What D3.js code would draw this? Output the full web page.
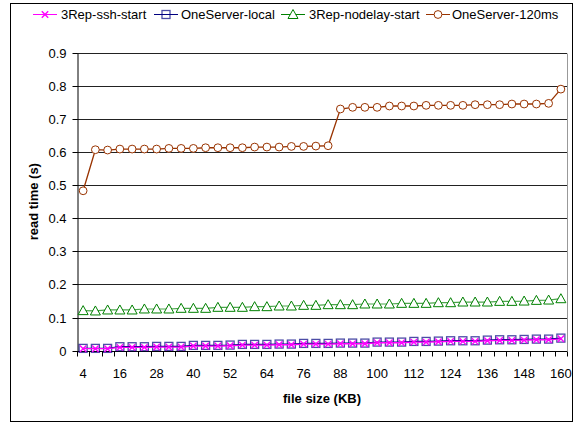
<!DOCTYPE html>
<html>
<head>
<meta charset="utf-8">
<script src="https://cdn.jsdelivr.net/npm/d3@7/dist/d3.min.js"></script>
<style>
  html, body { margin: 0; padding: 0; background: #fff; }
  svg { display: block; font-family: "Liberation Sans", Arial, sans-serif; }
</style>
</head>
<body>
<svg id="chart" width="574" height="423"></svg>
<script>
// File sizes in KB (x categories)
const fileSizes = [4, 8, 12, 16, 20, 24, 28, 32, 36, 40, 44, 48, 52, 56, 60, 64, 68, 72, 76, 80,
                   84, 88, 92, 96, 100, 104, 108, 112, 116, 120, 124, 128, 132, 136, 140, 144, 148, 152, 156, 160];

// Read times in seconds
const sshStart = [0.006, 0.006, 0.006, 0.010, 0.010, 0.010, 0.011, 0.011, 0.011, 0.014,
                  0.014, 0.014, 0.015, 0.017, 0.017, 0.017, 0.018, 0.018, 0.020, 0.020,
                  0.020, 0.021, 0.021, 0.021, 0.024, 0.024, 0.024, 0.026, 0.026, 0.027,
                  0.028, 0.028, 0.028, 0.030, 0.031, 0.031, 0.032, 0.033, 0.033, 0.036];
const oneServerLocal = [0.007, 0.007, 0.007, 0.012, 0.012, 0.012, 0.013, 0.013, 0.013, 0.016,
                        0.016, 0.016, 0.017, 0.019, 0.019, 0.019, 0.020, 0.020, 0.022, 0.022,
                        0.022, 0.023, 0.023, 0.023, 0.026, 0.026, 0.026, 0.028, 0.028, 0.029,
                        0.030, 0.030, 0.030, 0.032, 0.033, 0.033, 0.034, 0.035, 0.035, 0.038];
const nodelayStart = [0.121, 0.120, 0.123, 0.123, 0.123, 0.126, 0.126, 0.126, 0.128, 0.128,
                      0.128, 0.131, 0.131, 0.131, 0.133, 0.133, 0.135, 0.135, 0.137, 0.137,
                      0.139, 0.139, 0.139, 0.141, 0.141, 0.141, 0.143, 0.143, 0.143, 0.145,
                      0.145, 0.147, 0.147, 0.147, 0.149, 0.149, 0.150, 0.152, 0.153, 0.157];
const oneServer120 = [0.483, 0.607, 0.606, 0.609, 0.609, 0.609, 0.609, 0.611, 0.611, 0.611,
                      0.613, 0.613, 0.613, 0.613, 0.615, 0.615, 0.615, 0.617, 0.617, 0.618,
                      0.619, 0.730, 0.735, 0.735, 0.735, 0.739, 0.739, 0.739, 0.741, 0.741,
                      0.741, 0.741, 0.743, 0.743, 0.743, 0.745, 0.745, 0.745, 0.747, 0.790];

const yTicks = [0, 0.1, 0.2, 0.3, 0.4, 0.5, 0.6, 0.7, 0.8, 0.9];
const xLabels = [4, 16, 28, 40, 52, 64, 76, 88, 100, 112, 124, 136, 148, 160];

const seriesNames = ["3Rep-ssh-start", "OneServer-local", "3Rep-nodelay-start", "OneServer-120ms"];
const seriesColors = ["#ff00ff", "#000080", "#008000", "#993300"];
const seriesMarkers = ["cross", "square", "triangle", "circle"];
const seriesValues = [sshStart, oneServerLocal, nodelayStart, oneServer120];

const svg = d3.select("#chart");
const plot = { left: 77, right: 567, top: 52.7, bottom: 350.7 };

// outer frame
svg.append("rect")
  .attr("x", 10.5).attr("y", 3.5)
  .attr("width", 562).attr("height", 418)
  .attr("fill", "none").attr("stroke", "#000").attr("stroke-width", 1);

const x = d3.scaleBand().domain(fileSizes).range([plot.left, plot.right]).padding(0);
const cx = d => x(d) + x.bandwidth() / 2;
const y = d3.scaleLinear().domain([0, 0.9]).range([plot.bottom, plot.top]);

// horizontal gridlines
svg.append("g").selectAll("line")
  .data(yTicks.filter(t => t > 0))
  .join("line")
  .attr("x1", plot.left).attr("x2", plot.right)
  .attr("y1", d => Math.round(y(d)) + 0.5).attr("y2", d => Math.round(y(d)) + 0.5)
  .attr("stroke", "#222").attr("stroke-width", 1);

// right edge of plot area
svg.append("line")
  .attr("x1", plot.right + 0.5).attr("x2", plot.right + 0.5)
  .attr("y1", Math.round(y(0.9)) + 0.5).attr("y2", Math.round(y(0)) + 0.5)
  .attr("stroke", "#999");

// y axis
const yAxis = svg.append("g")
  .attr("transform", `translate(${plot.left + 0.5},0.5)`)
  .call(d3.axisLeft(y).tickValues(yTicks).tickSize(5).tickSizeOuter(0).tickPadding(6)
        .tickFormat(d => d === 0 ? "0" : d3.format(".1f")(d)));
yAxis.selectAll("text").attr("font-size", 13).attr("fill", "#000").attr("font-family", "Liberation Sans, Arial, sans-serif");
yAxis.selectAll("line, path").attr("stroke", "#000");
yAxis.selectAll(".tick").attr("transform", d => `translate(0,${Math.round(y(d))})`);

// x axis: baseline, boundary ticks, labels
const xg = svg.append("g");
xg.append("line")
  .attr("x1", plot.left).attr("x2", plot.right)
  .attr("y1", Math.round(y(0)) + 0.5).attr("y2", Math.round(y(0)) + 0.5)
  .attr("stroke", "#000");
const boundaries = fileSizes.map(d => x(d)).concat([plot.right]);
xg.selectAll("line.tk").data(boundaries).join("line")
  .attr("class", "tk")
  .attr("x1", d => Math.round(d) + 0.5).attr("x2", d => Math.round(d) + 0.5)
  .attr("y1", Math.round(y(0)) + 0.5).attr("y2", Math.round(y(0)) + 5.5)
  .attr("stroke", "#000");
xg.selectAll("text").data(xLabels).join("text")
  .attr("x", d => cx(d)).attr("y", 378)
  .attr("text-anchor", "middle").attr("font-size", 13).attr("fill", "#000")
  .text(d => d);

// axis titles
svg.append("text")
  .attr("x", (plot.left + plot.right) / 2).attr("y", 403)
  .attr("text-anchor", "middle").attr("font-size", 13).attr("font-weight", "bold")
  .text("file size (KB)");
svg.append("text")
  .attr("transform", `translate(38,${(plot.top + plot.bottom) / 2}) rotate(-90)`)
  .attr("text-anchor", "middle").attr("font-size", 13).attr("font-weight", "bold")
  .text("read time (s)");

// marker drawing
function drawMarker(g, type, color, px, py) {
  if (type === "circle") {
    g.append("circle").attr("cx", px).attr("cy", py).attr("r", 3.9)
      .attr("fill", "#fff").attr("stroke", color).attr("stroke-width", 1);
  } else if (type === "square") {
    g.append("rect").attr("x", px - 4).attr("y", py - 4).attr("width", 8).attr("height", 8)
      .attr("fill", "none").attr("stroke", color).attr("stroke-width", 1.3).attr("stroke-opacity", 0.7);
  } else if (type === "triangle") {
    g.append("path").attr("d", `M${px},${py - 5}L${px + 5},${py + 4}L${px - 5},${py + 4}Z`)
      .attr("fill", "#fff").attr("stroke", color).attr("stroke-width", 1);
  } else {
    g.append("path").attr("d", `M${px - 3.2},${py - 3.2}L${px + 3.2},${py + 3.2}M${px - 3.2},${py + 3.2}L${px + 3.2},${py - 3.2}`)
      .attr("stroke", color).attr("stroke-width", 1.4);
  }
}

// series lines and markers, drawn back-to-front
const order = [3, 2, 1, 0];
order.forEach(i => {
  const g = svg.append("g");
  const line = d3.line().x((d, j) => cx(fileSizes[j])).y(d => y(d));
  g.append("path").datum(seriesValues[i]).attr("d", line)
    .attr("fill", "none").attr("stroke", seriesColors[i])
    .attr("stroke-width", i === 2 ? 1.2 : 1.3).attr("stroke-opacity", i === 2 ? 0.7 : 1);
  seriesValues[i].forEach((v, j) => drawMarker(g, seriesMarkers[i], seriesColors[i], cx(fileSizes[j]), y(v)));
});

// legend
const legendItems = [
  { lx: 33, tx: 61 },
  { lx: 154, tx: 181 },
  { lx: 281, tx: 309 },
  { lx: 426, tx: 452 }
];
const lg = svg.append("g");
legendItems.forEach((it, i) => {
  const ly = 14.5;
  lg.append("line").attr("x1", it.lx).attr("x2", it.lx + 24).attr("y1", ly).attr("y2", ly)
    .attr("stroke", seriesColors[i]).attr("stroke-width", 1);
  drawMarker(lg, seriesMarkers[i], seriesColors[i], it.lx + 12, ly);
  lg.append("text").attr("x", it.tx).attr("y", ly + 4.5)
    .attr("font-size", 13).attr("fill", "#000").text(seriesNames[i]);
});
</script>
</body>
</html>
